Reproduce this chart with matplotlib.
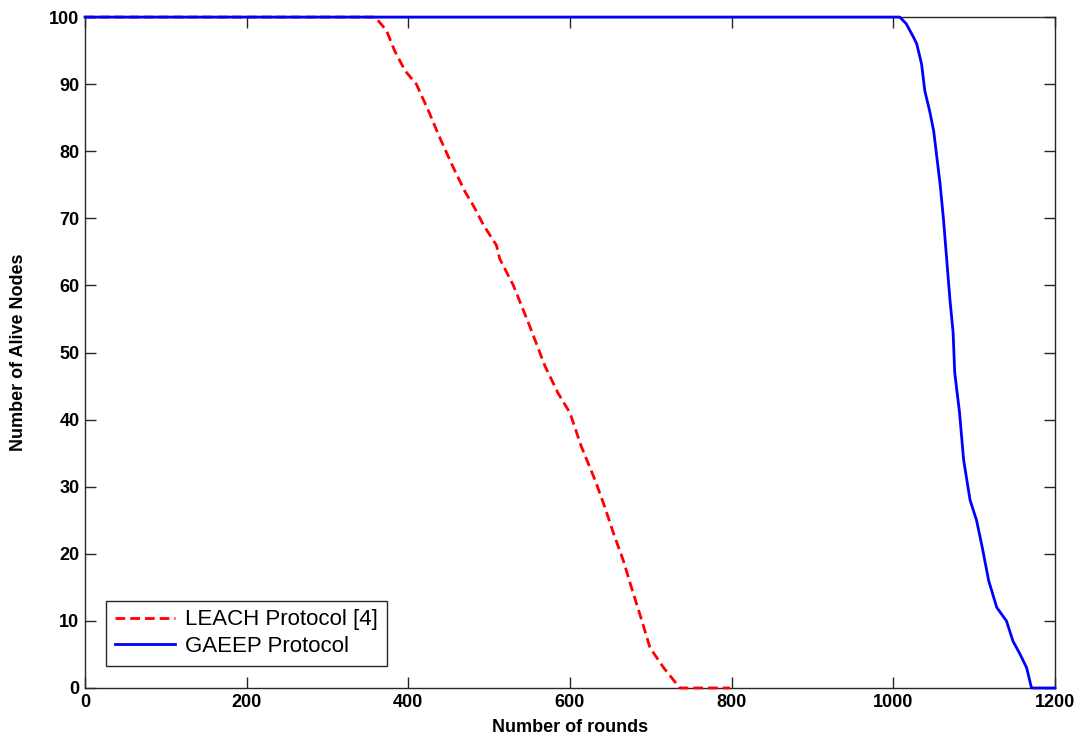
import matplotlib.pyplot as plt

plt.rcParams['font.family'] = ['Liberation Sans', 'DejaVu Sans']

# alive nodes per round, LEACH
leach_rounds = [0, 359, 373, 383, 396, 410, 425, 439, 454, 470, 480, 493, 509, 513,
                530, 550, 569, 585, 600, 614, 631, 643, 654, 666, 676, 689, 699, 716,
                736, 798]
leach_alive = [100, 100, 98, 95, 92, 90, 86, 82, 78, 74, 72, 69, 66, 64,
               60, 54, 48, 44, 41, 36, 31, 27, 23, 19, 15, 10, 6, 3,
               0, 0]

# alive nodes per round, GAEEP
gaeep_rounds = [0, 1008, 1016, 1025, 1029, 1035, 1039, 1045, 1050, 1054, 1058, 1062,
                1066, 1070, 1074, 1076, 1082, 1087, 1095, 1103, 1110, 1118, 1128,
                1140, 1148, 1157, 1165, 1171, 1200]
gaeep_alive = [100, 100, 99, 97, 96, 93, 89, 86, 83, 79, 75, 70,
               64, 58, 53, 47, 41, 34, 28, 25, 21, 16, 12,
               10, 7, 5, 3, 0, 0]

fig = plt.figure(figsize=(10.84, 7.42), dpi=100)
ax = fig.add_axes([0.0784, 0.0728, 0.8948, 0.9042])

ax.plot(leach_rounds, leach_alive, color='#ff0000', lw=2, ls='--', dashes=(3.5, 1.8),
        label='LEACH Protocol [4]', clip_on=False, zorder=3)
ax.plot(gaeep_rounds, gaeep_alive, color='#0000ff', lw=2,
        label='GAEEP Protocol', clip_on=False, zorder=4)

ax.set_xlim(0, 1200)
ax.set_ylim(0, 100)
ax.set_xticks(range(0, 1201, 200))
ax.set_yticks(range(0, 101, 10))
ax.tick_params(direction='in', length=8, width=1, top=True, right=True,
               labelsize=13, pad=4, colors='#262626')
for lbl in ax.get_xticklabels() + ax.get_yticklabels():
    lbl.set_fontweight('bold')
    lbl.set_color('black')
for sp in ax.spines.values():
    sp.set_color('#262626')
    sp.set_linewidth(1)

ax.set_xlabel('Number of rounds', fontsize=13, fontweight='bold', labelpad=6)
ax.set_ylabel('Number of Alive Nodes', fontsize=13, fontweight='bold', labelpad=16)

leg = ax.legend(loc='lower left', bbox_to_anchor=(0.022, 0.033), fontsize=16,
                fancybox=False, framealpha=1, edgecolor='#262626',
                handlelength=2.7, handletextpad=0.45, borderpad=0.4,
                labelspacing=0.25, borderaxespad=0)
leg.get_frame().set_linewidth(1)

fig.savefig('out.png', dpi=100)
